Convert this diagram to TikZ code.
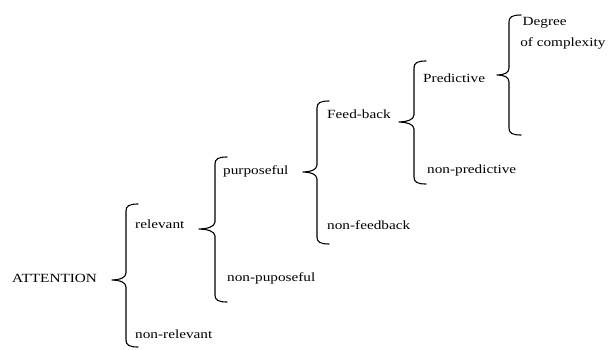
\documentclass[tikz,border=0pt]{standalone}
\usepackage{fontspec}
\setmainfont{Liberation Serif}
\begin{document}
\begin{tikzpicture}[x=1pt,y=-1pt,
  lbl/.style={font=\fontsize{12.5}{21}\selectfont, inner sep=0pt, anchor=west,
              xscale=1.22, transform shape, align=left},
  curly/.style={line width=1.1pt, line join=round, line cap=round}]
\useasboundingbox (0,0) rectangle (610,350);

% labels of the classification tree
\node[lbl] (att)   at (12,278)  {ATTENTION};
\node[lbl] (rel)   at (135,224) {relevant};
\node[lbl] (nrel)  at (135,334) {non-relevant};
\node[lbl] (purp)  at (223,171) {purposeful};
\node[lbl] (npurp) at (227,278) {non-puposeful};
\node[lbl] (fb)    at (327,114) {Feed-back};
\node[lbl] (nfb)   at (327,225) {non-feedback};
\node[lbl] (pred)  at (423,78)  {Predictive};
\node[lbl] (npred) at (427,170) {non-predictive};
\node[lbl, anchor=north west] (deg) at (520,17) {\hspace*{2pt}Degree\\of complexity};

% curly brace: #1 spine x, #2 top y, #3 bottom y, #4 tip x, #5 tip y
\newcommand\curlybrace[5]{%
  \draw[curly] (#1+12,#2) .. controls (#1+3,#2) and (#1,#2+2) .. (#1,#2+7)
    -- (#1,#5-7) .. controls (#1,#5-2) and (#4+7,#5) .. (#4,#5)
    .. controls (#4+7,#5) and (#1,#5+2) .. (#1,#5+7)
    -- (#1,#3-7) .. controls (#1,#3-2) and (#1+3,#3) .. (#1+12,#3);}

\curlybrace{126}{204}{347}{112}{280}
\curlybrace{215}{157}{302}{199}{229}
\curlybrace{317}{101}{244}{303}{172}
\curlybrace{414}{61}{184}{399}{122}
\curlybrace{509}{15}{135}{497}{75}
\end{tikzpicture}
\end{document}
